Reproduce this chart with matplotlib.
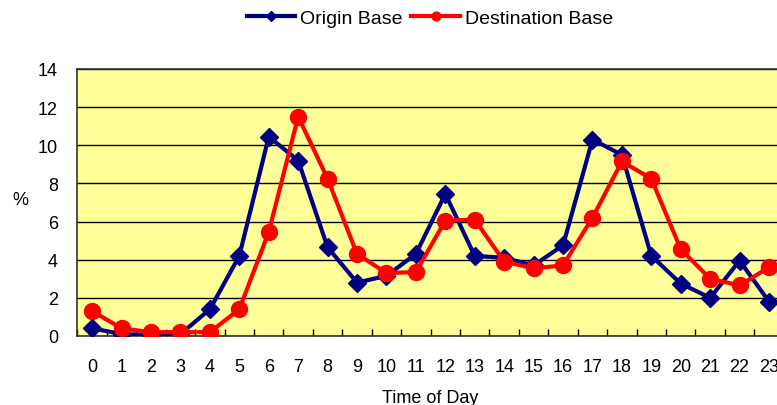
import matplotlib.pyplot as plt
import numpy as np

plt.rcParams['font.family'] = ['Liberation Sans', 'DejaVu Sans']

# Dane
hours = list(range(24))
origin_base = [0.4, 0.1, 0.05, 0.1, 1.4, 4.2, 10.45, 9.2, 4.65, 2.8, 3.15, 4.3,
               7.45, 4.2, 4.1, 3.7, 4.75, 10.3, 9.5, 4.2, 2.75, 2.0, 3.95, 1.8]
destination_base = [1.3, 0.4, 0.2, 0.2, 0.2, 1.4, 5.45, 11.5, 8.25, 4.3, 3.3, 3.35,
                    6.05, 6.1, 3.9, 3.55, 3.7, 6.2, 9.15, 8.25, 4.55, 3.0, 2.65, 3.6]

fig = plt.figure(figsize=(7.77, 4.06), dpi=100)
ax = fig.add_axes([0.0997, 0.17, 0.909, 0.6576])
ax.set_facecolor('#FFFF99')

ax.plot(hours, origin_base, color='#000080', lw=3, marker='D', ms=9,
        label='Origin Base', zorder=3)
ax.plot(hours, destination_base, color='#FF0000', lw=3, marker='o', ms=11.5,
        label='Destination Base', zorder=4)

ax.set_xlim(-0.5, 23.5)
ax.set_ylim(0, 14)
ax.set_yticks(np.arange(0, 15, 2))
ax.set_xticks(hours)
ax.set_xticks(np.arange(-0.5, 24, 1), minor=True)
ax.tick_params(axis='x', which='major', length=0, pad=16, labelsize=13)
ax.tick_params(axis='x', which='minor', direction='in', length=5, width=1)
ax.tick_params(axis='y', length=0, pad=14, labelsize=13)
ax.grid(axis='y', color='black', lw=1)
ax.set_axisbelow(True)
for s in ax.spines.values():
    s.set_color('#333333')
    s.set_linewidth(1.2)

ax.set_xlabel('Time of Day', fontsize=13, labelpad=10)
ax.set_ylabel('%', fontsize=13, rotation=0, va='center', ha='center')
ax.yaxis.set_label_coords(-0.081, 0.51)

fig.legend(loc='center', bbox_to_anchor=(0.553, 0.952), ncol=2, frameon=False,
           fontsize=14, handlelength=2.5, handletextpad=0.25, columnspacing=0.45,
           markerscale=0.55)

plt.savefig('out.png', dpi=100)
